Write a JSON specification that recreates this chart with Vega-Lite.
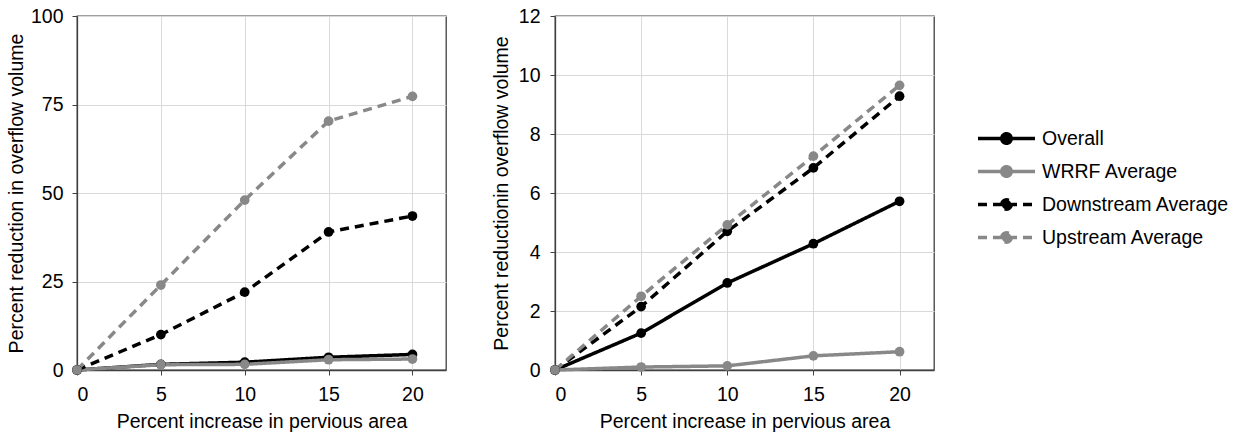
{
  "$schema": "https://vega.github.io/schema/vega-lite/v6.json",
  "background": "white",
  "padding": 5,
  "config": {
    "font": "Liberation Sans",
    "view": {"stroke": "#404040", "strokeWidth": 1.3},
    "axis": {
      "labelFontSize": 19.5, "titleFontSize": 19.5, "titleFontWeight": "normal",
      "labelColor": "#000000", "titleColor": "#000000",
      "domainColor": "#404040", "tickColor": "#404040", "domainWidth": 1.3,
      "gridColor": "#d9d9d9", "gridWidth": 1, "tickSize": 5, "labelPadding": 10,
      "titlePadding": 7
    }
  },
  "datasets": {
    "left": [
      {"x": 0, "series": "Overall", "y": 0},
      {"x": 5, "series": "Overall", "y": 1.6},
      {"x": 10, "series": "Overall", "y": 2.2},
      {"x": 15, "series": "Overall", "y": 3.6},
      {"x": 20, "series": "Overall", "y": 4.4},
      {"x": 0, "series": "WRRF Average", "y": 0},
      {"x": 5, "series": "WRRF Average", "y": 1.5},
      {"x": 10, "series": "WRRF Average", "y": 1.6},
      {"x": 15, "series": "WRRF Average", "y": 2.9},
      {"x": 20, "series": "WRRF Average", "y": 3.1},
      {"x": 0, "series": "Downstream Average", "y": 0},
      {"x": 5, "series": "Downstream Average", "y": 10},
      {"x": 10, "series": "Downstream Average", "y": 22},
      {"x": 15, "series": "Downstream Average", "y": 39},
      {"x": 20, "series": "Downstream Average", "y": 43.5},
      {"x": 0, "series": "Upstream Average", "y": 0},
      {"x": 5, "series": "Upstream Average", "y": 24},
      {"x": 10, "series": "Upstream Average", "y": 48},
      {"x": 15, "series": "Upstream Average", "y": 70.3},
      {"x": 20, "series": "Upstream Average", "y": 77.3}
    ],
    "right": [
      {"x": 0, "series": "Overall", "y": 0},
      {"x": 5, "series": "Overall", "y": 1.25},
      {"x": 10, "series": "Overall", "y": 2.95},
      {"x": 15, "series": "Overall", "y": 4.28},
      {"x": 20, "series": "Overall", "y": 5.72},
      {"x": 0, "series": "WRRF Average", "y": 0},
      {"x": 5, "series": "WRRF Average", "y": 0.1},
      {"x": 10, "series": "WRRF Average", "y": 0.14},
      {"x": 15, "series": "WRRF Average", "y": 0.48},
      {"x": 20, "series": "WRRF Average", "y": 0.62},
      {"x": 0, "series": "Downstream Average", "y": 0},
      {"x": 5, "series": "Downstream Average", "y": 2.15},
      {"x": 10, "series": "Downstream Average", "y": 4.7},
      {"x": 15, "series": "Downstream Average", "y": 6.85},
      {"x": 20, "series": "Downstream Average", "y": 9.28},
      {"x": 0, "series": "Upstream Average", "y": 0},
      {"x": 5, "series": "Upstream Average", "y": 2.5},
      {"x": 10, "series": "Upstream Average", "y": 4.92},
      {"x": 15, "series": "Upstream Average", "y": 7.25},
      {"x": 20, "series": "Upstream Average", "y": 9.65}
    ]
  },
  "spacing": 43,
  "resolve": {"scale": {"color": "shared", "strokeDash": "shared"}},
  "hconcat": [
    {
      "width": 369, "height": 354,
      "data": {"name": "left"},
      "encoding": {
        "x": {"field": "x", "type": "quantitative", "scale": {"domain": [0, 22], "nice": false},
              "axis": {"values": [0, 5, 10, 15, 20], "title": "Percent increase in pervious area", "titlePadding": 9}},
        "y": {"field": "y", "type": "quantitative", "scale": {"domain": [0, 100], "nice": false},
              "axis": {"values": [0, 25, 50, 75, 100], "title": "Percent reduction in overflow volume", "titlePadding": 4, "labelPadding": 9}},
        "color": {"field": "series", "type": "nominal",
                  "scale": {"domain": ["Overall", "WRRF Average", "Downstream Average", "Upstream Average"],
                            "range": ["#000000", "#888888", "#000000", "#888888"]},
                  "legend": {"orient": "none", "legendX": 918, "legendY": 111, "title": null,
                             "symbolType": "M-3,0H3M0.5,0A0.5,0.5,0,1,1,-0.5,0A0.5,0.5,0,1,1,0.5,0",
                             "symbolSize": 361, "symbolStrokeWidth": 3.5, "labelFontSize": 19.5, "labelColor": "#000000",
                             "labelOffset": 24, "rowPadding": 8, "labelLimit": 0,
                             "encode": {"symbols": {"update": {"fill": {"scale": "color", "field": "value"}, "stroke": {"scale": "color", "field": "value"}, "opacity": {"value": 1}}}}}},
        "order": {"field": "x", "type": "quantitative"}
      },
      "layer": [
        {"mark": {"type": "line", "strokeWidth": 3.5},
         "encoding": {"strokeDash": {"field": "series", "type": "nominal",
            "scale": {"domain": ["Overall", "WRRF Average", "Downstream Average", "Upstream Average"],
                      "range": [[1, 0], [1, 0], [9, 6], [9, 6]]},
            "legend": {"orient": "none", "legendX": 918, "legendY": 111, "title": null,
                       "symbolType": "M-3,0H3M0.5,0A0.5,0.5,0,1,1,-0.5,0A0.5,0.5,0,1,1,0.5,0",
                       "symbolSize": 361, "symbolStrokeWidth": 3.5, "labelFontSize": 19.5, "labelColor": "#000000",
                       "labelOffset": 24, "rowPadding": 8, "labelLimit": 0}}}},
        {"mark": {"type": "point", "filled": true, "size": 95, "opacity": 1}}
      ]
    },
    {
      "width": 379, "height": 354,
      "data": {"name": "right"},
      "encoding": {
        "x": {"field": "x", "type": "quantitative", "scale": {"domain": [0, 22], "nice": false},
              "axis": {"values": [0, 5, 10, 15, 20], "title": "Percent increase in pervious area", "titlePadding": 9}},
        "y": {"field": "y", "type": "quantitative", "scale": {"domain": [0, 12], "nice": false},
              "axis": {"values": [0, 2, 4, 6, 8, 10, 12], "title": "Percent reductionin overflow volume"}},
        "color": {"field": "series", "type": "nominal"},
        "order": {"field": "x", "type": "quantitative"}
      },
      "layer": [
        {"mark": {"type": "line", "strokeWidth": 3.5},
         "encoding": {"strokeDash": {"field": "series", "type": "nominal"}}},
        {"mark": {"type": "point", "filled": true, "size": 95, "opacity": 1}}
      ]
    }
  ]
}
